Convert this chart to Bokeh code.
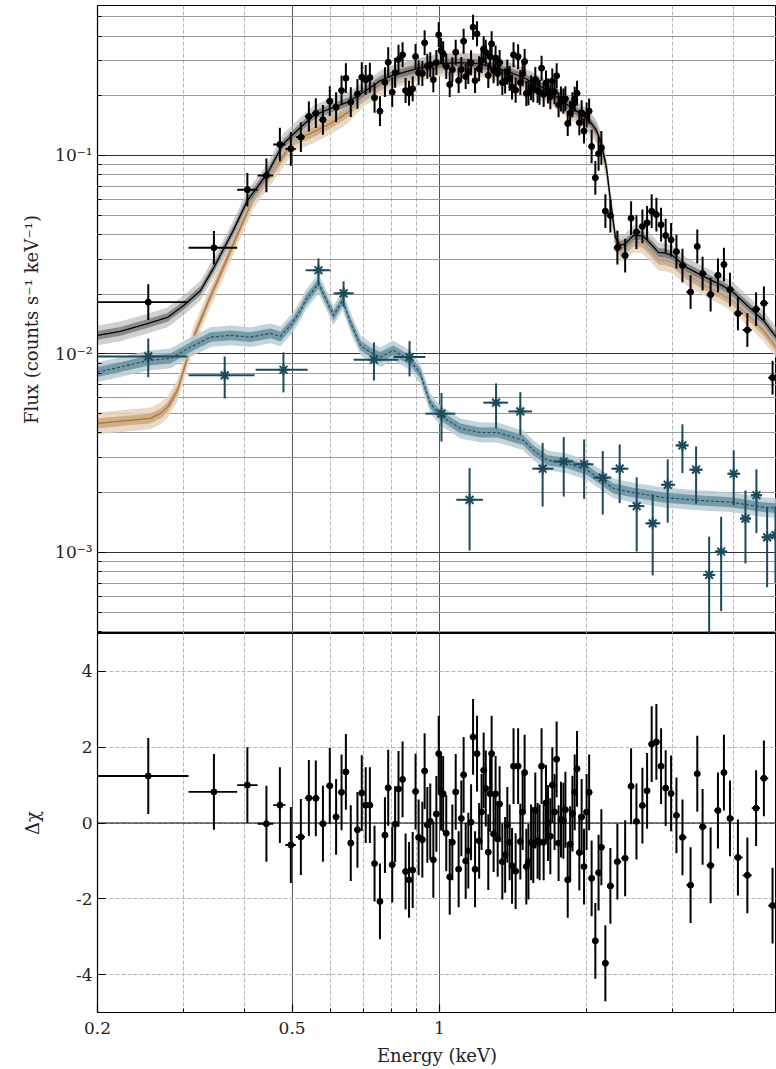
import math
from bokeh.plotting import figure
from bokeh.layouts import column
from bokeh.models import FixedTicker, Range1d, Span
from bokeh.embed import file_html
from bokeh.resources import INLINE

FONT = "DejaVu Serif"

# ---------------- source+background spectrum (black points) ----------------
energy = [0.254, 0.346, 0.405, 0.443, 0.472, 0.497, 0.521, 0.541, 0.559, 0.578,
          0.597, 0.615, 0.631, 0.644, 0.659, 0.680, 0.694, 0.707, 0.721, 0.737,
          0.756, 0.774, 0.786, 0.801, 0.812, 0.825, 0.841, 0.853, 0.867, 0.882,
          0.894, 0.907, 0.923, 0.933, 0.945, 0.958, 0.972, 0.986, 0.997, 1.008,
          1.018, 1.033, 1.050, 1.063, 1.080, 1.095, 1.109, 1.121, 1.132, 1.146,
          1.161, 1.172, 1.183, 1.194, 1.206, 1.220, 1.232, 1.244, 1.259, 1.270,
          1.279, 1.291, 1.303, 1.316, 1.328, 1.345, 1.363, 1.377, 1.392, 1.408,
          1.418, 1.432, 1.449, 1.464, 1.480, 1.494, 1.506, 1.521, 1.540, 1.556,
          1.571, 1.588, 1.603, 1.618, 1.634, 1.652, 1.668, 1.686, 1.702, 1.720,
          1.737, 1.753, 1.773, 1.793, 1.810, 1.830, 1.851, 1.871, 1.891, 1.912,
          1.933, 1.954, 1.976, 2.000, 2.024, 2.048, 2.084, 2.116, 2.144, 2.185,
          2.237, 2.312, 2.398, 2.466, 2.529, 2.601, 2.659, 2.717, 2.778, 2.840,
          2.902, 2.977, 3.053, 3.141, 3.263, 3.368, 3.453, 3.586, 3.712, 3.818,
          3.928, 4.078, 4.263, 4.442, 4.608, 4.800]
flux = [0.01824, 0.03428, 0.0672, 0.0793, 0.1136, 0.1081, 0.1237, 0.1572, 0.1633, 0.1513,
        0.1877, 0.1751, 0.2126, 0.2451, 0.1856, 0.2045, 0.2480, 0.2406, 0.2470, 0.1953,
        0.1672, 0.2340, 0.2951, 0.2084, 0.2610, 0.3045, 0.3216, 0.2126, 0.2060, 0.2168,
        0.3152, 0.2610, 0.2590, 0.3696, 0.2818, 0.2864, 0.2410, 0.2940, 0.4055, 0.3381,
        0.3254, 0.2808, 0.2279, 0.2702, 0.3315, 0.2386, 0.2712, 0.3765, 0.2500, 0.2650,
        0.2931, 0.4429, 0.2386, 0.4102, 0.2733, 0.3010, 0.3447, 0.3315, 0.2532, 0.3149,
        0.3657, 0.2677, 0.3102, 0.2589, 0.2941, 0.2332, 0.2373, 0.2637, 0.2445, 0.2216,
        0.3216, 0.2133, 0.3149, 0.2332, 0.2583, 0.2972, 0.2055, 0.2070, 0.2193, 0.2143,
        0.2417, 0.2123, 0.2086, 0.2753, 0.2029, 0.2318, 0.2116, 0.1978, 0.2373, 0.2098,
        0.2523, 0.1800, 0.1928, 0.1882, 0.1931, 0.1449, 0.1632, 0.1803, 0.1919, 0.2060,
        0.1463, 0.1643, 0.1327, 0.1598, 0.1674, 0.1110, 0.0772, 0.1020, 0.1093, 0.0524,
        0.0498, 0.0343, 0.0313, 0.0483, 0.0411, 0.0439, 0.0458, 0.0524, 0.0504, 0.0448,
        0.0395, 0.0376, 0.0328, 0.0279, 0.0205, 0.0348, 0.0254, 0.0199, 0.0249, 0.0282,
        0.0211, 0.0160, 0.0132, 0.0168, 0.0180, 0.00759]
# symmetric error in dex (estimated per energy range)
flux_err_dex = [0.09] + [0.085] * 5 + [0.075] * 20 + [0.063] * 79 + [0.085] * 31
residual = [1.24, 0.82, 1.0, -0.02, 0.47, -0.58, -0.37, 0.66, 0.65, -0.02,
            0.98, 0.16, 0.81, 1.35, -0.53, -0.18, 0.79, 0.47, 0.47, -1.07,
            -2.07, -0.32, 0.93, -1.1, -0.03, 0.9, 1.15, -1.28, -1.5, -1.24,
            0.83, -0.38, -0.44, 1.37, -0.05, 0.04, -0.97, 0.24, 1.83, 0.8,
            0.77, -0.27, -1.42, -0.51, 0.82, -1.22, 0.12, 1.27, -1.0, -0.73,
            0.02, 2.27, -1.22, 1.83, -0.47, 0.29, 1.39, 0.91, -0.77, 0.77,
            1.83, -0.29, 0.77, -0.42, 0.5, -1.02, -0.84, -0.05, -0.51, -1.13,
            1.5, -1.27, 1.5, -0.49, 0.29, 1.33, -1.15, -1.02, -0.51, -0.58,
            0.33, -0.47, -0.51, 1.5, -0.51, 0.53, 0.0, -0.35, 1.0, 0.29,
            1.68, -0.53, 0.09, 0.06, 0.35, -1.5, -0.56, 0.25, 0.81, 1.43,
            -0.78, 0.16, -1.15, 0.29, 0.81, -1.46, -3.11, -1.31, -0.64, -3.7,
            -1.66, -1.02, -0.93, 0.97, 0.04, 0.46, 0.85, 2.08, 2.14, 1.5,
            0.92, 0.78, 0.2, -0.38, -1.64, 1.3, -0.1, -1.12, 0.33, 1.33,
            0.12, -0.91, -1.38, 0.39, 1.18, -2.18]
residual_err = 1.0
low_edges = [0.2, 0.307, 0.386, 0.425]   # edges of the first, wide bins

# ---------------- background spectrum (teal stars) ----------------
bkg_energy = [0.254, 0.364, 0.480, 0.566, 0.637, 0.735, 0.869, 1.010, 1.153, 1.306,
              1.464, 1.626, 1.796, 1.977, 2.158, 2.337, 2.532, 2.730, 2.930, 3.140,
              3.349, 3.561, 3.768, 3.998, 4.225, 4.449, 4.679, 4.866]
bkg_lo = [0.2, 0.307, 0.421, 0.533, 0.608, 0.668, 0.805, 0.936, 1.083, 1.230,
          1.384, 1.549, 1.711, 1.879, 2.065, 2.248, 2.435, 2.638, 2.840, 3.040,
          3.245, 3.462, 3.663, 3.880, 4.120, 4.336, 4.566, 4.791]
bkg_hi = [0.3055, 0.419, 0.538, 0.599, 0.668, 0.825, 0.936, 1.078, 1.228, 1.382,
          1.547, 1.711, 1.879, 2.065, 2.245, 2.435, 2.626, 2.831, 3.034, 3.235,
          3.455, 3.663, 3.876, 4.120, 4.336, 4.566, 4.791, 4.980]
bkg_flux = [0.00971, 0.0078, 0.00832, 0.0264, 0.0202, 0.00935, 0.00964, 0.0050, 0.00184, 0.00568,
            0.00513, 0.00264, 0.00287, 0.00278, 0.00238, 0.00264, 0.00171, 0.0014, 0.00219, 0.00346,
            0.00261, 0.00077, 0.00101, 0.00249, 0.00148, 0.00194, 0.00119, 0.00122]
bkg_flux_hi = [0.01197, 0.00971, 0.01018, 0.0303, 0.0232, 0.01143, 0.0116, 0.00635, 0.00266, 0.0071,
               0.00642, 0.00356, 0.00381, 0.00371, 0.00324, 0.0035, 0.00239, 0.00196, 0.00294, 0.00442,
               0.00342, 0.0012, 0.00151, 0.00327, 0.00205, 0.00262, 0.00169, 0.0017]
bkg_flux_lo = [0.00762, 0.00597, 0.0064, 0.0221, 0.0173, 0.00735, 0.0077, 0.00362, 0.00102, 0.00421,
               0.00389, 0.0017, 0.00191, 0.00186, 0.00155, 0.00177, 0.00101, 0.000766, 0.00141, 0.00251,
               0.00176, 0.000386, 0.000506, 0.00173, 0.00088, 0.00125, 0.000667, 0.0007]

# ---------------- models ----------------
total_energy = [0.2, 0.2228, 0.254, 0.278, 0.3, 0.325, 0.346, 0.379, 0.405, 0.445, 0.480,
                0.52, 0.553, 0.599, 0.649, 0.70, 0.7575, 0.8, 0.9, 1.0,
                1.1, 1.2, 1.3, 1.4, 1.5, 1.6, 1.7, 1.8, 1.9, 2.0,
                2.046, 2.095, 2.144, 2.196, 2.248, 2.291, 2.345, 2.401, 2.493, 2.601,
                2.701, 2.805, 2.899, 2.996, 3.2, 3.499, 3.791, 3.993, 4.305, 4.598, 4.889]
total_model = [0.0124, 0.01298, 0.01425, 0.01527, 0.01755, 0.02089, 0.02728, 0.0419, 0.0593, 0.0812, 0.1149,
               0.1384, 0.1591, 0.1725, 0.1856, 0.2084, 0.2386, 0.2529, 0.2743, 0.2907,
               0.2941, 0.2907, 0.2775, 0.2619, 0.2443, 0.2253, 0.2053, 0.1849, 0.1685, 0.1536,
               0.1449, 0.1337, 0.1149, 0.087, 0.0547, 0.0386, 0.0352, 0.036, 0.0395, 0.0395,
               0.036, 0.0325, 0.0322, 0.0313, 0.0273, 0.0243, 0.0221, 0.0204, 0.01715, 0.01475, 0.01211]
src_energy = [0.2, 0.2566, 0.2691, 0.278, 0.2915, 0.3055, 0.3143, 0.3357, 0.369, 0.392, 0.417,
              0.445, 0.473, 0.503, 0.545, 0.599, 0.649, 0.70, 0.7575, 0.8, 0.9, 1.0,
              1.1, 1.2, 1.3, 1.4, 1.5, 1.6, 1.7, 1.8, 1.9, 2.0,
              2.046, 2.095, 2.144, 2.196, 2.248, 2.291, 2.345, 2.401, 2.493, 2.601,
              2.701, 2.805, 2.899, 2.996, 3.2, 3.499, 3.791, 3.993, 4.305, 4.598, 4.889]
src_model = [0.004467, 0.004732, 0.005016, 0.005377, 0.006548, 0.009603, 0.01211, 0.01797, 0.03062, 0.04338, 0.06143,
             0.07657, 0.09436, 0.1190, 0.1291, 0.1449, 0.1646, 0.2006, 0.2253, 0.2471, 0.2681, 0.2841,
             0.2873, 0.2841, 0.2712, 0.2559, 0.2386, 0.2202, 0.2006, 0.1807, 0.1646, 0.1500,
             0.1416, 0.1305, 0.1123, 0.0850, 0.0528, 0.0369, 0.0332, 0.0336, 0.0369, 0.0364,
             0.0332, 0.0299, 0.0296, 0.0289, 0.0252, 0.0221, 0.0199, 0.0184, 0.01545, 0.01313, 0.01078]
bkg_model_energy = [0.2, 0.2228, 0.254, 0.282, 0.310, 0.3405, 0.3741, 0.411, 0.4517, 0.4733,
                    0.5, 0.52, 0.5326, 0.5661, 0.6077, 0.634, 0.658, 0.690, 0.723, 0.7575,
                    0.805, 0.872, 0.914, 0.958, 1.005, 1.104, 1.213, 1.314, 1.417, 1.485,
                    1.557, 1.663, 1.827, 2.008, 2.269, 2.493, 2.871, 3.37, 3.936, 4.598, 4.889]
bkg_model = [0.0081, 0.00858, 0.00927, 0.00949, 0.01082, 0.01215, 0.0124, 0.01215, 0.01269, 0.01225,
             0.01425, 0.01656, 0.0186, 0.02265, 0.01563, 0.0186, 0.01441, 0.01104, 0.01018, 0.00964,
             0.01042, 0.00927, 0.00798, 0.00564, 0.0049, 0.00421, 0.00402, 0.00402, 0.0038, 0.00367,
             0.00327, 0.00291, 0.00281, 0.00259, 0.0021, 0.002, 0.00189, 0.00183, 0.00179, 0.00169, 0.00167]

# band half-widths (dex)
TOTAL_BAND = (0.022, 0.05)
SRC_BAND = (0.025, 0.055)
BKG_BAND = (0.025, 0.05)

x_ticks = [0.2, 0.5, 1, 5]
x_minor = [0.3, 0.4, 0.6, 0.7, 0.8, 0.9, 2, 3, 4]
x_labels = {0.2: "0.2", 0.5: "0.5", 1: "1"}
y_ticks = [1e-3, 1e-2, 1e-1]
y_minor = [k * 10.0 ** e for e in (-4, -3, -2, -1) for k in range(2, 10)]
y_labels = {1e-3: "10\u207b\u00b3", 1e-2: "10\u207b\u00b2", 1e-1: "10\u207b\u00b9"}
r_ticks = [-4, -2, 0, 2, 4]
r_labels = {-4: "-4", -2: "-2", 0: "0", 2: "2", 4: "4"}

assert len(energy) == len(flux) == len(flux_err_dex) == len(residual)
assert len(total_energy) == len(total_model)
assert len(src_energy) == len(src_model)
assert len(bkg_model_energy) == len(bkg_model)

n = len(energy)
edges = list(low_edges)
for i in range(len(low_edges), n):
    edges.append(math.sqrt(energy[i - 1] * energy[i]))
edges.append(energy[-1] ** 2 / edges[-1])
e_lo, e_hi = edges[:-1], edges[1:]
f_hi = [f * 10 ** d for f, d in zip(flux, flux_err_dex)]
f_lo = [f / 10 ** d for f, d in zip(flux, flux_err_dex)]

BLACK = "#000000"
TEAL = "#1c4a5b"
BROWN = "#a8733a"

x_range = Range1d(0.2, 4.89)

top = figure(width=776, height=633, x_axis_type="log", y_axis_type="log",
             x_range=x_range, y_range=Range1d(3.9e-4, 0.57),
             output_backend="svg", toolbar_location=None,
             min_border_left=97, min_border_right=0, min_border_top=5, min_border_bottom=0)
top.xaxis.visible = False
top.xaxis.ticker = FixedTicker(ticks=x_ticks, minor_ticks=x_minor)
top.yaxis.ticker = FixedTicker(ticks=y_ticks, minor_ticks=y_minor)
top.yaxis.major_label_overrides = y_labels
top.yaxis.axis_label = "Flux (counts s\u207b\u00b9 keV\u207b\u00b9)"
top.yaxis.major_label_standoff = 5
top.yaxis.axis_label_standoff = 10

bot = figure(width=776, height=436, x_axis_type="log",
             x_range=x_range, y_range=Range1d(-5, 5),
             output_backend="svg", toolbar_location=None,
             min_border_left=97, min_border_right=0, min_border_top=0, min_border_bottom=57)
bot.xaxis.ticker = FixedTicker(ticks=x_ticks, minor_ticks=x_minor)
bot.xaxis.major_label_overrides = x_labels
bot.xaxis.axis_label = "Energy (keV)"
bot.xaxis.major_label_standoff = 9
bot.xaxis.axis_label_standoff = 8
bot.yaxis.ticker = FixedTicker(ticks=r_ticks)
bot.yaxis.major_label_overrides = r_labels
bot.yaxis.axis_label = "\u0394\u03c7"
bot.yaxis.major_label_standoff = 5
bot.yaxis.axis_label_standoff = 30

for p in (top, bot):
    p.outline_line_color = "black"
    p.outline_line_width = 1
    p.outline_line_alpha = 1
    p.background_fill_color = "white"
    p.border_fill_color = "white"
    for ax in p.axis:
        ax.major_tick_in = 8
        ax.major_tick_out = 0
        ax.minor_tick_in = 4
        ax.minor_tick_out = 0
        ax.major_tick_line_width = 1.2
        ax.axis_line_width = 1.2
        ax.major_label_text_font = FONT
        ax.major_label_text_font_size = "17px"
        ax.major_label_text_color = "#222222"
        ax.axis_label_text_font = FONT
        ax.axis_label_text_font_size = "18px"
        ax.axis_label_text_font_style = "normal"
        ax.axis_label_text_color = "#222222"
    p.xgrid.grid_line_color = "#555555"
    p.xgrid.grid_line_width = 1
    p.xgrid.minor_grid_line_color = "#b5b5b5"
    p.xgrid.minor_grid_line_dash = "4 2"

top.ygrid.grid_line_color = "#333333"
top.ygrid.minor_grid_line_color = "#9a9a9a"
top.ygrid.minor_grid_line_width = 1
bot.ygrid.grid_line_color = "#b5b5b5"
bot.ygrid.grid_line_dash = "4 2"


def band(ys, w):
    return [y / 10 ** w for y in ys], [y * 10 ** w for y in ys]


# source model bands + line
lo, hi = band(src_model, SRC_BAND[1])
top.varea(x=src_energy, y1=lo, y2=hi, fill_color="#e6d2ba", fill_alpha=0.85)
lo, hi = band(src_model, SRC_BAND[0])
top.varea(x=src_energy, y1=lo, y2=hi, fill_color="#c9a378", fill_alpha=0.8)
top.line(src_energy, src_model, line_color=BROWN, line_width=1.2)

# total model bands + line
lo, hi = band(total_model, TOTAL_BAND[1])
top.varea(x=total_energy, y1=lo, y2=hi, fill_color="#b0b0b0", fill_alpha=0.6)
lo, hi = band(total_model, TOTAL_BAND[0])
top.varea(x=total_energy, y1=lo, y2=hi, fill_color="#5e5e5e", fill_alpha=0.6)
top.line(total_energy, total_model, line_color=BLACK, line_width=1.3)

# background model bands + line
lo, hi = band(bkg_model, BKG_BAND[1])
top.varea(x=bkg_model_energy, y1=lo, y2=hi, fill_color="#b9cbd3", fill_alpha=0.85)
lo, hi = band(bkg_model, BKG_BAND[0])
top.varea(x=bkg_model_energy, y1=lo, y2=hi, fill_color="#5d8797", fill_alpha=0.75)
top.line(bkg_model_energy, bkg_model, line_color=TEAL, line_width=1.1, line_dash="3 2")

# background data
top.segment(x0=bkg_lo, y0=bkg_flux, x1=bkg_hi, y1=bkg_flux, line_color=TEAL, line_width=2)
top.segment(x0=bkg_energy, y0=bkg_flux_lo, x1=bkg_energy, y1=bkg_flux_hi, line_color=TEAL, line_width=2)
top.scatter(bkg_energy, bkg_flux, marker="asterisk", size=11, line_color=TEAL, line_width=2)

# source+background data
top.segment(x0=e_lo, y0=flux, x1=e_hi, y1=flux, line_color=BLACK, line_width=1.8)
top.segment(x0=energy, y0=f_lo, x1=energy, y1=f_hi, line_color=BLACK, line_width=2)
top.scatter(energy, flux, marker="circle", size=6, fill_color=BLACK, line_color=BLACK)

# residuals
bot.add_layout(Span(location=0, dimension="width", line_color="black", line_width=1.2))
r_lo = [r - residual_err for r in residual]
r_hi = [r + residual_err for r in residual]
bot.segment(x0=e_lo, y0=residual, x1=e_hi, y1=residual, line_color=BLACK, line_width=1.8)
bot.segment(x0=energy, y0=r_lo, x1=energy, y1=r_hi, line_color=BLACK, line_width=2)
bot.scatter(energy, residual, marker="circle", size=6, fill_color=BLACK, line_color=BLACK)

layout = column(top, bot, spacing=0)
open("out.html", "w").write(file_html(layout, INLINE))
